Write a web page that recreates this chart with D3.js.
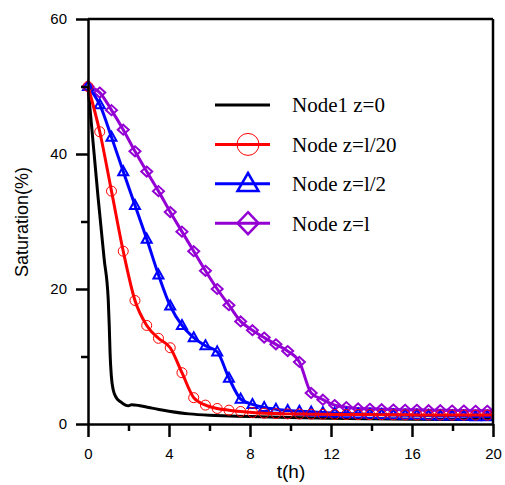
<!DOCTYPE html>
<html>
<head>
<meta charset="utf-8">
<script src="https://cdn.jsdelivr.net/npm/d3@7"></script>
<style>
  body { margin: 0; background: #fff; }
  svg { display: block; }
</style>
</head>
<body>
<script>
// marker times (h) shared by the three marked series, last entry closes the line
const markT = [0, 0.58, 1.16, 1.74, 2.32, 2.9, 3.48, 4.06, 4.64, 5.22, 5.8, 6.38, 6.96, 7.54, 8.12, 8.7, 9.28, 9.86,
    10.44, 11.02, 11.6, 12.18, 12.76, 13.34, 13.92, 14.5, 15.08, 15.66, 16.24, 16.82, 17.4, 17.98, 18.56, 19.14, 19.72, 20];

const node20 = [50, 43.3, 34.5, 25.6, 18.3, 14.6, 12.7, 11.3, 7.6, 3.9, 2.8, 2.3, 2.05, 1.85, 1.7, 1.6, 1.55, 1.5,
    1.48, 1.46, 1.44, 1.42, 1.41, 1.4, 1.39, 1.38, 1.37, 1.36, 1.35, 1.35, 1.34, 1.33, 1.33, 1.32, 1.32, 1.32];
const node2 = [50, 47.3, 42.5, 37.4, 32.4, 27.4, 22.1, 17.5, 14.6, 12.8, 11.6, 10.7, 6.8, 3.7, 2.9, 2.45, 2.2, 2.0,
    1.9, 1.8, 1.7, 1.6, 1.55, 1.5, 1.45, 1.4, 1.35, 1.3, 1.3, 1.25, 1.2, 1.2, 1.15, 1.1, 1.1, 1.1];
const node1 = [50, 49.1, 46.5, 43.6, 40.4, 37.4, 34.5, 31.4, 28.5, 25.6, 22.7, 20.0, 17.6, 15.2, 13.9, 12.8, 11.8, 10.8,
    9.2, 4.6, 3.6, 2.8, 2.5, 2.3, 2.25, 2.2, 2.15, 2.1, 2.1, 2.05, 2.05, 2.0, 2.0, 1.95, 1.95, 1.95];

const blackT = [0, 0.5, 0.8, 1.0, 1.05, 1.09, 1.15, 1.25, 1.4, 1.6, 1.85, 2.0, 2.15, 2.5, 3.0, 3.5, 4, 5, 6, 7, 8, 10, 12, 14, 16, 18, 20];
const node0 = [50, 33.5, 24.4, 18.4, 14.5, 10.5, 7.2, 5.0, 3.9, 3.3, 2.8, 2.7, 2.85, 2.75, 2.45, 2.15, 1.9, 1.5, 1.3, 1.2, 1.1, 0.95, 0.85, 0.78, 0.72, 0.68, 0.65];

const xTicks = [0, 4, 8, 12, 16, 20];
const xMinor = [2, 6, 10, 14, 18];
const yTicks = [0, 20, 40, 60];
const yMinor = [10, 30, 50];

const width = 505;
const height = 485;

const xScale = d3.scaleLinear().domain([0, 20]).range([88, 493]);
const yScale = d3.scaleLinear().domain([0, 60]).range([424, 19]);

const svg = d3.select("body")
    .append("svg")
    .attr("width", width)
    .attr("height", height)
    .style("font-family", "'Liberation Sans', Arial, sans-serif");

const line = d3.line()
    .x((d) => xScale(d[0]))
    .y((d) => yScale(d[1]))
    .curve(d3.curveMonotoneX);

const plot = svg.append("g");

// black curve has no markers
plot.append("path")
    .datum(blackT.map((t, i) => [t, node0[i]]))
    .attr("d", line)
    .attr("fill", "none")
    .attr("stroke", "#000")
    .attr("stroke-width", 3);

const diamond = (s, w, h) => `M0,${-h}L${w},0L0,${h}L${-w},0Z`;
const triangle = (w, h) => `M0,${-h * 0.6}L${w},${h * 0.4}L${-w},${h * 0.4}Z`;

const series = [
    { values: node1, color: "#9400d3", marker: "diamond" },
    { values: node2, color: "#0000ff", marker: "triangle" },
    { values: node20, color: "#ff0000", marker: "circle" }
];

series.forEach((s) => {
    const pts = markT.map((t, i) => [t, s.values[i]]);
    plot.append("path")
        .datum(pts)
        .attr("d", line)
        .attr("fill", "none")
        .attr("stroke", s.color)
        .attr("stroke-width", 3);

    const marks = plot.append("g")
        .selectAll("path")
        .data(pts.slice(0, -1))
        .enter()
        .append("path")
        .attr("transform", (d) => `translate(${xScale(d[0])},${yScale(d[1])})`)
        .attr("fill", "none")
        .attr("stroke", s.color);
    if (s.marker === "circle") {
        marks.attr("d", d3.symbol(d3.symbolCircle, Math.PI * 25)).attr("stroke-width", 1);
    } else if (s.marker === "triangle") {
        marks.attr("d", triangle(5, 9)).attr("stroke-width", 2);
    } else {
        marks.attr("d", diamond(0, 5.5, 5)).attr("stroke-width", 2);
    }
});

// axes
svg.append("g")
    .attr("transform", "translate(0,424)")
    .call(d3.axisBottom(xScale).tickValues(xTicks).tickSize(13).tickSizeOuter(0).tickPadding(11));
svg.append("g")
    .attr("transform", "translate(0,424)")
    .call(d3.axisBottom(xScale).tickValues(xMinor).tickSize(7).tickSizeOuter(0).tickFormat(""))
    .call((g) => g.select(".domain").remove());

svg.append("g")
    .attr("transform", "translate(88,0)")
    .call(d3.axisLeft(yScale).tickValues(yTicks).tickSize(12).tickSizeOuter(0).tickPadding(9));
svg.append("g")
    .attr("transform", "translate(88,0)")
    .call(d3.axisLeft(yScale).tickValues(yMinor).tickSize(7).tickSizeOuter(0).tickFormat(""))
    .call((g) => g.select(".domain").remove());

svg.selectAll(".domain, .tick line").attr("stroke", "#000").attr("stroke-width", 2.5);
svg.selectAll(".tick text").attr("fill", "#000").style("font-size", "15px").style("font-family", "'Liberation Sans', Arial, sans-serif");

// top and right frame
svg.append("line").attr("x1", 88).attr("x2", 493).attr("y1", yScale(60)).attr("y2", yScale(60))
    .attr("stroke", "#000").attr("stroke-width", 2.5);
svg.append("line").attr("x1", 493).attr("x2", 493).attr("y1", yScale(60)).attr("y2", yScale(0))
    .attr("stroke", "#000").attr("stroke-width", 2.5);

svg.append("text")
    .attr("x", 291)
    .attr("y", 478)
    .attr("text-anchor", "middle")
    .style("font-size", "19px")
    .text("t(h)");

svg.append("text")
    .attr("transform", "translate(28,222) rotate(-90)")
    .attr("text-anchor", "middle")
    .style("font-size", "18px")
    .text("Saturation(%)");

// legend
const legendItems = [
    { label: "Node1 z=0", color: "#000", marker: null },
    { label: "Node z=l/20", color: "#ff0000", marker: "circle" },
    { label: "Node z=l/2", color: "#0000ff", marker: "triangle" },
    { label: "Node z=l", color: "#9400d3", marker: "diamond" }
];
const legend = svg.append("g").attr("id", "legend");
legendItems.forEach((item, i) => {
    const y = 105 + i * 39.4;
    legend.append("line").attr("x1", 215).attr("x2", 270).attr("y1", y).attr("y2", y)
        .attr("stroke", item.color).attr("stroke-width", 3);
    const m = legend.append("path")
        .attr("transform", `translate(248,${y})`)
        .attr("fill", "none")
        .attr("stroke", item.color);
    if (item.marker === "circle") {
        m.attr("d", d3.symbol(d3.symbolCircle, Math.PI * 121)).attr("stroke-width", 1);
    } else if (item.marker === "triangle") {
        m.attr("d", triangle(10.5, 18)).attr("stroke-width", 2.5);
    } else if (item.marker === "diamond") {
        m.attr("d", diamond(0, 10.5, 11)).attr("stroke-width", 2.5);
    } else {
        m.remove();
    }
    legend.append("text")
        .attr("x", 292)
        .attr("y", y)
        .attr("dy", "0.35em")
        .style("font-family", "'Liberation Serif', 'Times New Roman', serif")
        .style("font-size", "21px")
        .text(item.label);
});
</script>
</body>
</html>
